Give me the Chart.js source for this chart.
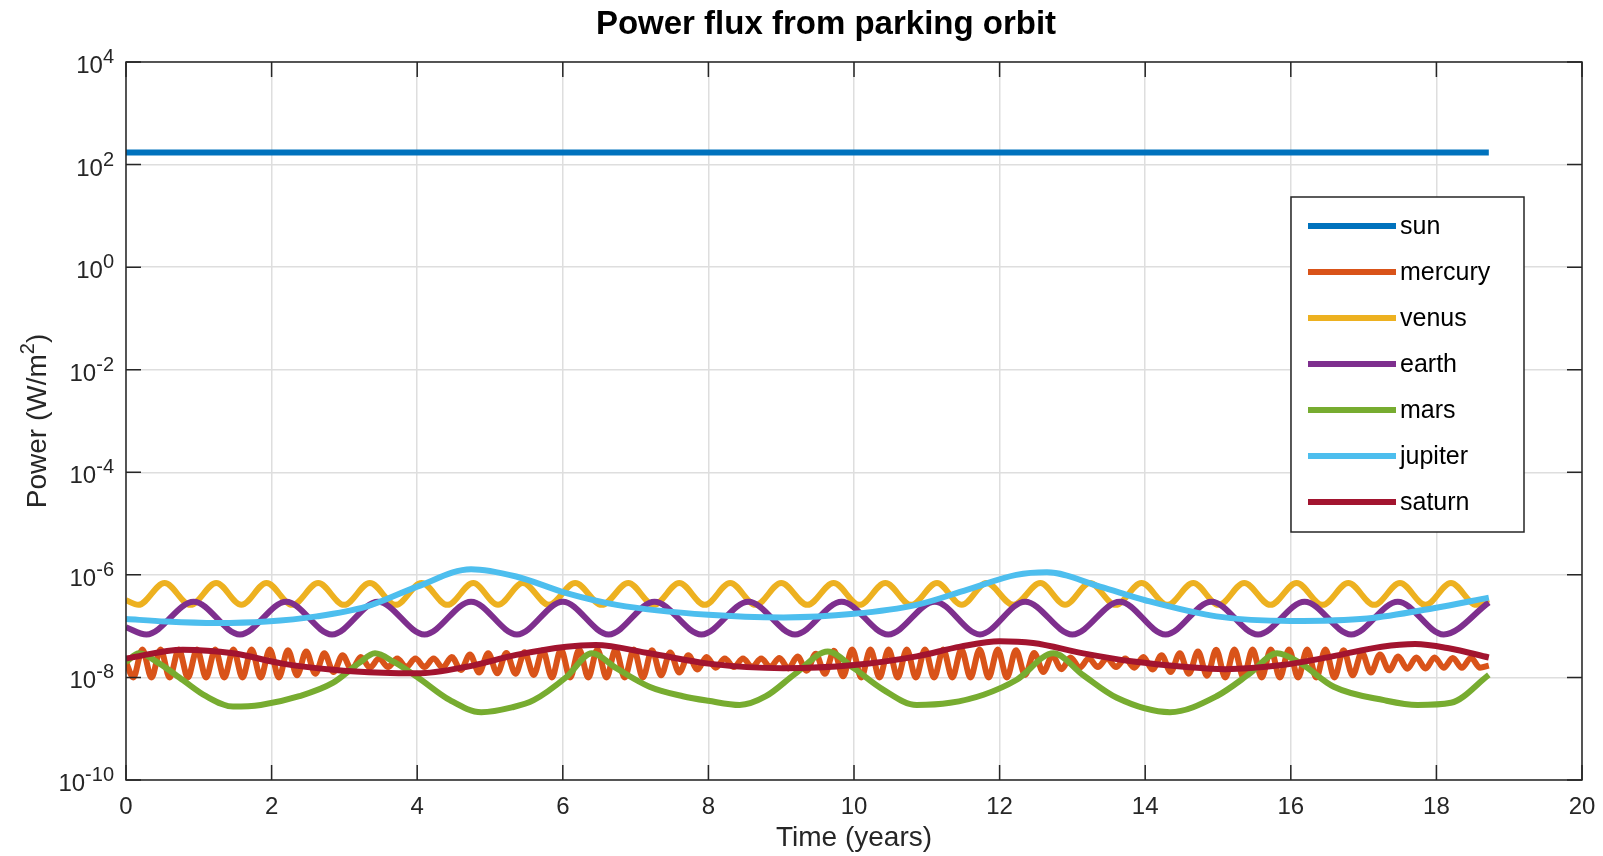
<!DOCTYPE html>
<html>
<head>
<meta charset="utf-8">
<title>Power flux from parking orbit</title>
<script src="https://cdn.jsdelivr.net/npm/chart.js@4.4.0/dist/chart.umd.min.js"></script>
<style>
  html, body { margin: 0; padding: 0; background: #fff; }
  #wrap { width: 1603px; height: 856px; }
</style>
</head>
<body>
<div id="wrap"><canvas id="fluxChart" width="1603" height="856"></canvas></div>
<script>
// values (time in years, power in W/m^2)

const xTicks = [0, 2, 4, 6, 8, 10, 12, 14, 16, 18, 20];
const yTicks = [1e-10, 1e-8, 1e-6, 1e-4, 1e-2, 1e0, 1e2, 1e4];

const seriesNames = ['sun', 'mercury', 'venus', 'earth', 'mars', 'jupiter', 'saturn'];
const seriesColors = ['#0072BD', '#D95319', '#EDB120', '#7E2F8E', '#77AC30', '#4DBEEE', '#A2142F'];

const sunTime = [0, 18.72];
const sunPower = [171, 171];

const mercuryTime = [
  0,
  0.1, 0.225, 0.35, 0.475, 0.6, 0.725, 0.85, 0.975, 1.1, 1.225,
  1.35, 1.475, 1.6, 1.725, 1.85, 1.975, 2.1, 2.225, 2.35, 2.475,
  2.6, 2.725, 2.85, 2.975, 3.1, 3.225, 3.35, 3.475, 3.6, 3.725,
  3.85, 3.975, 4.1, 4.225, 4.35, 4.475, 4.6, 4.725, 4.85, 4.975,
  5.1, 5.225, 5.35, 5.475, 5.6, 5.725, 5.85, 5.975, 6.1, 6.225,
  6.35, 6.475, 6.6, 6.725, 6.85, 6.975, 7.1, 7.225, 7.35, 7.475,
  7.6, 7.725, 7.85, 7.975, 8.1, 8.225, 8.35, 8.475, 8.6, 8.725,
  8.85, 8.975, 9.1, 9.225, 9.35, 9.475, 9.6, 9.725, 9.85, 9.975,
  10.1, 10.225, 10.35, 10.475, 10.6, 10.725, 10.85, 10.975, 11.1, 11.225,
  11.35, 11.475, 11.6, 11.725, 11.85, 11.975, 12.1, 12.225, 12.35, 12.475,
  12.6, 12.725, 12.85, 12.975, 13.1, 13.225, 13.35, 13.475, 13.6, 13.725,
  13.85, 13.975, 14.1, 14.225, 14.35, 14.475, 14.6, 14.725, 14.85, 14.975,
  15.1, 15.225, 15.35, 15.475, 15.6, 15.725, 15.85, 15.975, 16.1, 16.225,
  16.35, 16.475, 16.6, 16.725, 16.85, 16.975, 17.1, 17.225, 17.35, 17.475,
  17.6, 17.725, 17.85, 17.975, 18.1, 18.225, 18.35, 18.475, 18.6,
  18.72
];
const mercuryPower = [
  2.0e-8,
  1.0e-8, 3.5e-8, 1.0e-8, 3.5e-8, 1.0e-8, 3.5e-8, 1.0e-8, 3.5e-8, 1.0e-8, 3.5e-8,
  1.0e-8, 3.5e-8, 1.0e-8, 3.5e-8, 1.0e-8, 3.5e-8, 1.0e-8, 3.4e-8, 1.1e-8, 3.2e-8,
  1.18e-8, 2.95e-8, 1.28e-8, 2.7e-8, 1.42e-8, 2.5e-8, 1.55e-8, 2.35e-8, 1.6e-8, 2.35e-8,
  1.6e-8, 2.35e-8, 1.6e-8, 2.35e-8, 1.55e-8, 2.5e-8, 1.4e-8, 2.8e-8, 1.25e-8, 2.95e-8,
  1.2e-8, 3.0e-8, 1.18e-8, 3.1e-8, 1.12e-8, 3.35e-8, 1.0e-8, 3.5e-8, 1.0e-8, 3.5e-8,
  1.0e-8, 3.5e-8, 1.0e-8, 3.5e-8, 1.0e-8, 3.5e-8, 1.0e-8, 3.4e-8, 1.1e-8, 3.05e-8,
  1.25e-8, 2.7e-8, 1.42e-8, 2.5e-8, 1.55e-8, 2.35e-8, 1.6e-8, 2.35e-8, 1.6e-8, 2.35e-8,
  1.6e-8, 2.4e-8, 1.5e-8, 2.55e-8, 1.35e-8, 2.9e-8, 1.18e-8, 3.3e-8, 1.05e-8, 3.5e-8,
  1.0e-8, 3.5e-8, 1.0e-8, 3.5e-8, 1.0e-8, 3.5e-8, 1.0e-8, 3.5e-8, 1.0e-8, 3.5e-8,
  1.0e-8, 3.5e-8, 1.0e-8, 3.5e-8, 1.0e-8, 3.5e-8, 1.0e-8, 3.4e-8, 1.12e-8, 3.0e-8,
  1.28e-8, 2.65e-8, 1.45e-8, 2.45e-8, 1.55e-8, 2.35e-8, 1.6e-8, 2.35e-8, 1.6e-8, 2.35e-8,
  1.55e-8, 2.5e-8, 1.42e-8, 2.7e-8, 1.28e-8, 2.95e-8, 1.18e-8, 3.2e-8, 1.08e-8, 3.45e-8,
  1.0e-8, 3.5e-8, 1.0e-8, 3.5e-8, 1.0e-8, 3.5e-8, 1.0e-8, 3.5e-8, 1.0e-8, 3.5e-8,
  1.0e-8, 3.5e-8, 1.0e-8, 3.4e-8, 1.1e-8, 3.05e-8, 1.25e-8, 2.8e-8, 1.38e-8, 2.55e-8,
  1.48e-8, 2.45e-8, 1.5e-8, 2.45e-8, 1.55e-8, 2.4e-8, 1.55e-8, 2.4e-8, 1.55e-8,
  1.7e-8
];

const venusTime = [
  0, 0.17, 0.53, 0.885, 1.24, 1.585, 1.93, 2.285, 2.64, 2.995, 3.35,
  3.705, 4.06, 4.415, 4.77, 5.11, 5.45, 5.81, 6.17, 6.535, 6.9,
  7.25, 7.6, 7.95, 8.3, 8.65, 9.0, 9.36, 9.72, 10.075, 10.43,
  10.785, 11.14, 11.48, 11.82, 12.19, 12.56, 12.9, 13.24, 13.595, 13.95,
  14.305, 14.66, 15.01, 15.36, 15.72, 16.08, 16.435, 16.79, 17.145, 17.5,
  17.85, 18.2, 18.55, 18.72
];
const venusPower = [
  3.2e-7, 2.6e-7, 6.9e-7, 2.6e-7, 6.9e-7, 2.6e-7, 6.9e-7, 2.6e-7, 6.9e-7, 2.6e-7, 6.9e-7,
  2.6e-7, 6.9e-7, 2.6e-7, 6.9e-7, 2.6e-7, 6.9e-7, 2.6e-7, 6.9e-7, 2.6e-7, 6.9e-7,
  2.6e-7, 6.9e-7, 2.6e-7, 6.9e-7, 2.6e-7, 6.9e-7, 2.6e-7, 6.9e-7, 2.6e-7, 6.9e-7,
  2.6e-7, 6.9e-7, 2.6e-7, 6.9e-7, 2.6e-7, 6.9e-7, 2.6e-7, 6.9e-7, 2.6e-7, 6.9e-7,
  2.6e-7, 6.9e-7, 2.6e-7, 6.9e-7, 2.6e-7, 6.9e-7, 2.6e-7, 6.9e-7, 2.6e-7, 6.9e-7,
  2.6e-7, 6.9e-7, 2.6e-7, 3.3e-7
];

const earthTime = [
  0, 0.28, 0.93, 1.565, 2.2, 2.83, 3.46, 4.1, 4.74, 5.37, 6.0,
  6.63, 7.26, 7.905, 8.55, 9.19, 9.83, 10.47, 11.11, 11.73, 12.35,
  13.0, 13.65, 14.28, 14.91, 15.55, 16.19, 16.83, 17.47, 18.1, 18.72
];
const earthPower = [
  9.5e-8, 6.9e-8, 3.0e-7, 6.9e-8, 3.0e-7, 6.9e-8, 3.0e-7, 6.9e-8, 3.0e-7, 6.9e-8, 3.0e-7,
  6.9e-8, 3.0e-7, 6.9e-8, 3.0e-7, 6.9e-8, 3.0e-7, 6.9e-8, 3.0e-7, 6.9e-8, 3.0e-7,
  6.9e-8, 3.0e-7, 6.9e-8, 3.0e-7, 6.9e-8, 3.0e-7, 6.9e-8, 3.0e-7, 6.9e-8, 2.9e-7
];

const marsTime = [
  0, 0.18, 0.45, 0.78, 1.1, 1.47, 1.85, 2.38, 2.84, 3.2, 3.42, 3.68,
  4.0, 4.45, 4.88, 5.3, 5.6, 6.05, 6.4, 6.74, 7.19, 7.65, 8.0, 8.43,
  8.79, 9.2, 9.64, 10.0, 10.4, 10.86, 11.32, 11.78, 12.23, 12.74, 13.15, 13.61,
  14.34, 14.98, 15.44, 15.81, 16.13, 16.59, 17.28, 17.74, 18.2, 18.72
];
const marsPower = [
  2.0e-8, 2.95e-8, 1.9e-8, 8.9e-9, 4.3e-9, 2.7e-9, 2.9e-9, 4.3e-9, 7.8e-9, 1.9e-8, 2.95e-8, 2.0e-8,
  1.02e-8, 3.6e-9, 2.1e-9, 2.6e-9, 3.6e-9, 1.02e-8, 2.95e-8, 1.5e-8, 6.6e-9, 4.3e-9, 3.5e-9, 2.9e-9,
  4.3e-9, 1.2e-8, 3.2e-8, 1.5e-8, 5.8e-9, 2.9e-9, 3.2e-9, 4.6e-9, 8.9e-9, 2.95e-8, 1.1e-8, 4.0e-9,
  2.1e-9, 4.3e-9, 1.2e-8, 2.95e-8, 1.9e-8, 6.6e-9, 3.6e-9, 2.9e-9, 3.2e-9, 1.12e-8
];

const jupiterTime = [
  0, 0.55, 1.24, 1.93, 2.62, 3.3, 4.0, 4.74, 5.36, 6.05, 6.74, 8.0, 9.03,
  10.0, 10.86, 11.55, 12.23, 12.65, 13.38, 14.0, 14.98, 16.0, 17.05, 17.96, 18.72
];
const jupiterPower = [
  1.38e-7, 1.23e-7, 1.15e-7, 1.23e-7, 1.55e-7, 2.4e-7, 5.9e-7, 1.29e-6, 9.3e-7, 4.4e-7, 2.6e-7, 1.66e-7, 1.48e-7,
  1.74e-7, 2.6e-7, 5.1e-7, 1.0e-6, 1.12e-6, 5.9e-7, 3.2e-7, 1.55e-7, 1.26e-7, 1.41e-7, 2.24e-7, 3.6e-7
];

const saturnTime = [
  0, 0.78, 1.47, 2.15, 2.84, 3.53, 4.0, 4.68, 5.36, 6.05, 6.45, 7.19, 8.0, 9.03, 10.0,
  10.86, 11.46, 12.0, 12.46, 13.15, 13.84, 14.53, 15.1, 15.88, 16.57, 17.25, 17.71, 18.17, 18.72
];
const saturnPower = [
  2.34e-8, 3.47e-8, 2.95e-8, 1.86e-8, 1.41e-8, 1.23e-8, 1.2e-8, 1.62e-8, 2.75e-8, 3.98e-8, 4.27e-8, 2.95e-8, 1.86e-8, 1.51e-8, 1.74e-8,
  2.57e-8, 3.98e-8, 5.1e-8, 4.7e-8, 2.95e-8, 2.04e-8, 1.62e-8, 1.45e-8, 1.74e-8, 2.57e-8, 3.98e-8, 4.47e-8, 3.7e-8, 2.45e-8
];

const seriesTimes = [sunTime, mercuryTime, venusTime, earthTime, marsTime, jupiterTime, saturnTime];
const seriesPowers = [sunPower, mercuryPower, venusPower, earthPower, marsPower, jupiterPower, saturnPower];

const FONT = "'Liberation Sans', Arial, Helvetica, sans-serif";
const AXIS_COLOR = '#262626';
const TICK_LEN = 15;

document.addEventListener("DOMContentLoaded", () => {
  renderChart();
});

function toPoints(times, powers) {
  return times.map((t, i) => ({ x: t, y: powers[i] }));
}

// box, inward ticks, 10^n labels, titles and the boxed legend, MATLAB style
const matlabDecor = {
  id: 'matlabDecor',
  afterDraw(chart) {
    const { ctx, chartArea: a } = chart;
    const xs = chart.scales.x;
    const ys = chart.scales.y;
    ctx.save();

    ctx.strokeStyle = AXIS_COLOR;
    ctx.lineWidth = 1.5;
    ctx.strokeRect(a.left, a.top, a.right - a.left, a.bottom - a.top);

    ctx.beginPath();
    xTicks.forEach(v => {
      const px = xs.getPixelForValue(v);
      ctx.moveTo(px, a.bottom); ctx.lineTo(px, a.bottom - TICK_LEN);
      ctx.moveTo(px, a.top); ctx.lineTo(px, a.top + TICK_LEN);
    });
    yTicks.forEach(v => {
      const py = ys.getPixelForValue(v);
      ctx.moveTo(a.left, py); ctx.lineTo(a.left + TICK_LEN, py);
      ctx.moveTo(a.right, py); ctx.lineTo(a.right - TICK_LEN, py);
    });
    ctx.stroke();

    // x tick labels
    ctx.fillStyle = AXIS_COLOR;
    ctx.font = `24px ${FONT}`;
    ctx.textAlign = 'center';
    ctx.textBaseline = 'alphabetic';
    xTicks.forEach(v => ctx.fillText(String(v), xs.getPixelForValue(v), a.bottom + 34));

    // y tick labels as 10 with a raised exponent
    yTicks.forEach(v => {
      const py = ys.getPixelForValue(v);
      const exp = String(Math.round(Math.log10(v)));
      ctx.font = `20px ${FONT}`;
      const ew = ctx.measureText(exp).width;
      const ex = a.left - 12 - ew;
      ctx.textAlign = 'left';
      ctx.fillText(exp, ex, py + 1);
      ctx.font = `24px ${FONT}`;
      ctx.textAlign = 'right';
      ctx.fillText('10', ex, py + 11);
    });

    // x axis title
    ctx.font = `28px ${FONT}`;
    ctx.textAlign = 'center';
    ctx.fillText('Time (years)', (a.left + a.right) / 2, 846);

    // y axis title, rotated, with superscript 2
    ctx.save();
    ctx.translate(36, (a.top + a.bottom) / 2);
    ctx.rotate(-Math.PI / 2);
    ctx.textAlign = 'left';
    const main = 'Power (W/m';
    ctx.font = `28px ${FONT}`;
    const w1 = ctx.measureText(main).width;
    const w3 = ctx.measureText(')').width;
    ctx.font = `20px ${FONT}`;
    const w2 = ctx.measureText('2').width;
    let cx = -(w1 + w2 + w3) / 2;
    ctx.font = `28px ${FONT}`;
    ctx.fillText(main, cx, 10);
    cx += w1;
    ctx.font = `20px ${FONT}`;
    ctx.fillText('2', cx, -2);
    cx += w2;
    ctx.font = `28px ${FONT}`;
    ctx.fillText(')', cx, 10);
    ctx.restore();

    // title
    ctx.fillStyle = '#000';
    ctx.font = `bold 33px ${FONT}`;
    ctx.textAlign = 'center';
    ctx.fillText('Power flux from parking orbit', 826, 34);

    // legend
    const box = { left: 1291, top: 197, width: 233, height: 335 };
    ctx.fillStyle = '#fff';
    ctx.fillRect(box.left, box.top, box.width, box.height);
    ctx.strokeStyle = AXIS_COLOR;
    ctx.lineWidth = 1.5;
    ctx.strokeRect(box.left, box.top, box.width, box.height);
    ctx.font = `25px ${FONT}`;
    ctx.textAlign = 'left';
    ctx.textBaseline = 'middle';
    chart.data.datasets.forEach((ds, i) => {
      const ry = 226 + i * 46;
      ctx.strokeStyle = ds.borderColor;
      ctx.lineWidth = 6;
      ctx.beginPath();
      ctx.moveTo(1308, ry);
      ctx.lineTo(1396, ry);
      ctx.stroke();
      ctx.fillStyle = '#000';
      ctx.fillText(ds.label, 1400, ry + 1);
    });

    ctx.restore();
  }
};

function renderChart() {
  if (!window.Chart) return;
  const ctx = document.getElementById("fluxChart").getContext("2d");

  const datasets = seriesNames.map((name, i) => ({
    label: name,
    data: toPoints(seriesTimes[i], seriesPowers[i]),
    borderColor: seriesColors[i],
    backgroundColor: seriesColors[i],
    // later series sit on top, as in the original plot
    order: seriesNames.length - i
  }));

  new Chart(ctx, {
    type: 'line',
    data: { datasets },
    options: {
      responsive: false,
      animation: false,
      devicePixelRatio: 1,
      layout: { padding: { top: 62, right: 21, left: 0, bottom: 0 } },
      plugins: {
        legend: { display: false },
        title: { display: false },
        tooltip: { enabled: false }
      },
      elements: {
        point: { radius: 0, hoverRadius: 0 },
        line: { borderWidth: 6, cubicInterpolationMode: 'monotone', borderCapStyle: 'butt', borderJoinStyle: 'round', fill: false }
      },
      scales: {
        x: {
          type: 'linear',
          min: 0,
          max: 20,
          afterBuildTicks: s => { s.ticks = xTicks.map(v => ({ value: v })); },
          afterFit: s => { s.height = 76; },
          ticks: { display: false },
          grid: { color: '#dedede', lineWidth: 1.5, drawTicks: false },
          border: { display: false }
        },
        y: {
          type: 'logarithmic',
          min: 1e-10,
          max: 1e4,
          afterBuildTicks: s => { s.ticks = yTicks.map(v => ({ value: v })); },
          afterFit: s => { s.width = 126; },
          ticks: { display: false },
          grid: { color: '#dedede', lineWidth: 1.5, drawTicks: false },
          border: { display: false }
        }
      }
    },
    plugins: [matlabDecor]
  });
}
</script>
</body>
</html>
